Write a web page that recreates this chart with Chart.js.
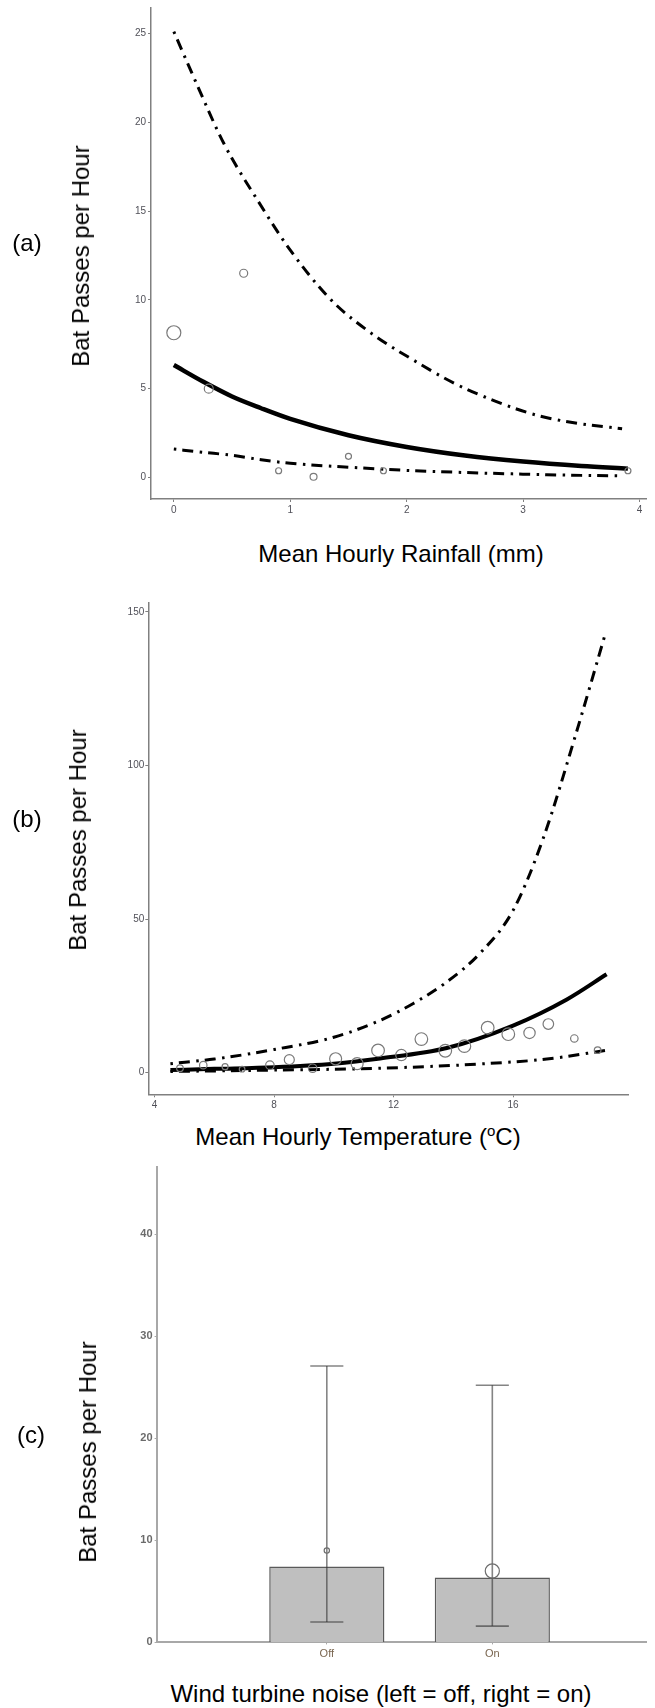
<!DOCTYPE html>
<html><head><meta charset="utf-8">
<script src="https://cdn.jsdelivr.net/npm/chart.js@4.4.1/dist/chart.umd.min.js"></script>
<style>
html,body{margin:0;padding:0;background:#fff;}
body{width:655px;height:1708px;position:relative;overflow:hidden;font-family:"Liberation Sans",Arial,sans-serif;}
canvas{position:absolute;left:0;}
.t{position:absolute;transform:translate(-50%,-50%);white-space:nowrap;color:#000;font-size:24px;line-height:1;}
.r{transform:translate(-50%,-50%) rotate(-90deg);}
sup{font-size:15px;vertical-align:9px;line-height:0;}
</style></head><body>
<canvas id="ca" width="655" height="530" style="top:0px"></canvas>
<canvas id="cb" width="655" height="540" style="top:580px"></canvas>
<canvas id="cc" width="655" height="520" style="top:1150px"></canvas>

<div class="t" style="left:27px;top:243px">(a)</div>
<div class="t r" style="left:81px;top:256px">Bat Passes per Hour</div>
<div class="t" style="left:401px;top:554px">Mean Hourly Rainfall (mm)</div>

<div class="t" style="left:27px;top:819px">(b)</div>
<div class="t r" style="left:78px;top:840px">Bat Passes per Hour</div>
<div class="t" style="left:358px;top:1137px">Mean Hourly Temperature (<sup>o</sup>C)</div>

<div class="t" style="left:31px;top:1435px">(c)</div>
<div class="t r" style="left:88px;top:1452px">Bat Passes per Hour</div>
<div class="t" style="left:381px;top:1694px">Wind turbine noise (left = off, right = on)</div>

<script>
// ---------- (a) Rainfall ----------
const rainX      = [0, 0.3, 0.6, 0.9, 1.2, 1.5, 1.8, 3.9];
const rainY      = [8.15, 5.0, 11.5, 0.38, 0.04, 1.19, 0.38, 0.38];
const rainWeight = [49, 20, 16, 9, 12, 9, 9, 9];
const rainFitX   = [0, 0.25, 0.5, 0.75, 1, 1.5, 2, 2.5, 3, 3.5, 3.9];
const rainFit    = [6.33, 5.4, 4.56, 3.9, 3.3, 2.38, 1.72, 1.24, 0.9, 0.65, 0.5];
const rainUpperX = [0, 0.19, 0.43, 0.72, 1.0, 1.35, 1.7, 2.06, 2.41, 2.76, 3.12, 3.47, 3.85];
const rainUpper  = [25.1, 22.25, 18.8, 15.6, 12.8, 10.0, 8.1, 6.6, 5.3, 4.3, 3.5, 3.05, 2.75];
const rainLowerX = [0, 0.25, 0.5, 0.75, 1, 1.5, 2, 2.5, 3, 3.5, 3.85];
const rainLower  = [1.6, 1.42, 1.25, 1.0, 0.8, 0.58, 0.4, 0.28, 0.19, 0.12, 0.09];
const rainXTicks = [0, 1, 2, 3, 4];
const rainYTicks = [0, 5, 10, 15, 20, 25];

// ---------- (b) Temperature ----------
const tempX      = [4.85, 5.63, 6.36, 6.93, 7.86, 8.51, 9.29, 10.06, 10.78, 11.48, 12.26, 12.93, 13.73, 14.37, 15.15, 15.84, 16.55, 17.18, 18.05, 18.83];
const tempY      = [1.4, 2.4, 1.9, 1.1, 2.4, 4.2, 1.4, 4.5, 2.9, 7.2, 5.7, 10.9, 7.1, 8.6, 14.6, 12.5, 12.9, 15.8, 11.1, 7.3];
const tempWeight = [11, 14, 9, 8, 18, 25, 18, 36, 36, 40, 32, 40, 40, 40, 40, 40, 32, 28, 14, 11];
const tempFitX   = [4.53, 6, 8, 10, 11.55, 13.78, 16.0, 17.8, 19.13];
const tempFit    = [0.8, 1.2, 1.75, 2.9, 4.6, 8.0, 15.3, 23.8, 32.0];
const tempUpperX = [4.53, 6, 8, 10, 11.55, 12.66, 13.78, 14.91, 16, 17, 18.12, 19.1];
const tempUpper  = [2.9, 4.4, 7.5, 11.5, 17.0, 22.5, 29.5, 39.0, 52.8, 76, 110.8, 143.3];
const tempLowerX = [4.53, 8, 11.55, 14.9, 17.13, 19.17];
const tempLower  = [0.35, 0.8, 1.4, 2.8, 4.4, 7.3];
const tempXTicks = [4, 8, 12, 16];
const tempYTicks = [0, 50, 100, 150];

// ---------- (c) Wind turbine noise ----------
const noiseCats   = ['Off', 'On'];
const noiseMean   = [7.45, 6.35];
const noiseLow    = [2.0, 1.6];
const noiseHigh   = [27.1, 25.2];
const noisePoint  = [9.0, 7.0];
const noiseWeight = [7, 50];
const noiseYTicks = [0, 10, 20, 30, 40];

const FONT = '"Liberation Sans", Arial, sans-serif';
Chart.defaults.font.family = FONT;
Chart.defaults.animation = false;

const xy = (xs, ys) => xs.map((x, i) => ({x, y: ys[i]}));
const dashDot = [2.5, 6, 11, 6.5];

function pointsDs(xs, ys, w, color) {
  return {type: 'scatter', data: xy(xs, ys), showLine: false,
    pointRadius: w.map(v => Math.sqrt(v)), pointHoverRadius: w.map(v => Math.sqrt(v)),
    pointBackgroundColor: 'rgba(0,0,0,0)', pointBorderColor: color || '#7a7a7a', pointBorderWidth: 1.2, order: 0};
}
function lineDs(xs, ys, width, dash) {
  return {type: 'scatter', data: xy(xs, ys), showLine: true, pointRadius: 0,
    borderColor: '#000', borderWidth: width, borderDash: dash || [], borderCapStyle: 'butt',
    cubicInterpolationMode: 'monotone', fill: false, order: 1};
}
function axes(o) {
  return {
    x: {type: 'linear', min: o.xmin, max: o.xmax, offset: false,
      afterBuildTicks: s => { s.ticks = o.xticks.map(v => ({value: v})); },
      afterFit: s => { s.height = o.xh; },
      grid: {display: true, offset: false, drawOnChartArea: false, drawTicks: true, tickLength: o.tl, color: o.axc, lineWidth: 1},
      border: {display: true, color: o.axc, width: o.aw},
      ticks: Object.assign({autoSkip: false, maxRotation: 0, padding: 2, color: '#505058', font: {size: 10}}, o.xtick || {})},
    y: {type: 'linear', min: o.ymin, max: o.ymax, offset: false,
      afterBuildTicks: s => { s.ticks = o.yticks.map(v => ({value: v})); },
      afterFit: s => { s.width = o.yw; },
      grid: {display: true, offset: false, drawOnChartArea: false, drawTicks: true, tickLength: o.tl, color: o.axc, lineWidth: 1},
      border: {display: true, color: o.axc, width: o.aw},
      ticks: Object.assign({padding: 2, color: '#505058', font: {size: 10}}, o.ytick || {})}
  };
}
const common = {responsive: false, animation: false, events: [],
  plugins: {legend: {display: false}, tooltip: {enabled: false}}};

// (a)
new Chart(document.getElementById('ca'), {
  type: 'scatter',
  data: {datasets: [
    lineDs(rainUpperX, rainUpper, 3, dashDot),
    lineDs(rainLowerX, rainLower, 3, dashDot),
    lineDs(rainFitX, rainFit, 4.5),
    pointsDs(rainX, rainY, rainWeight)
  ]},
  options: Object.assign({}, common, {
    layout: {padding: {top: 8, right: 0, bottom: 0, left: 0}},
    scales: axes({xmin: -0.196, xmax: 4.062, ymin: -1.21, ymax: 26.42, xticks: rainXTicks, yticks: rainYTicks,
      xh: 31, yw: 151, tl: 3, axc: '#808080', aw: 1.5})
  })
});

// (b)
new Chart(document.getElementById('cb'), {
  type: 'scatter',
  data: {datasets: [
    lineDs(tempUpperX, tempUpper, 3, dashDot),
    lineDs(tempLowerX, tempLower, 3, dashDot),
    lineDs(tempFitX, tempFit, 4),
    pointsDs(tempX, tempY, tempWeight)
  ]},
  options: Object.assign({}, common, {
    layout: {padding: {top: 23, right: 26.3, bottom: 0, left: 0}},
    scales: axes({xmin: 3.79, xmax: 19.87, ymin: -7.08, ymax: 152.9, xticks: tempXTicks, yticks: tempYTicks,
      xh: 25.7, yw: 148.3, tl: 3, axc: '#808080', aw: 1.5, ytick: {padding: 1}})
  })
});

// (c)
const catX = noiseCats.map((c, i) => i + 1);
const whiskerColor = 'rgba(50,50,50,0.6)';
const whiskers = [];
catX.forEach((x, i) => {
  const seg = (pts) => ({type: 'scatter', data: pts, showLine: true, pointRadius: 0,
    borderColor: whiskerColor, borderWidth: 1.6, fill: false, order: 1});
  whiskers.push(seg([{x, y: noiseLow[i]}, {x, y: noiseHigh[i]}]));
  whiskers.push(seg([{x: x - 0.1, y: noiseLow[i]}, {x: x + 0.1, y: noiseLow[i]}]));
  whiskers.push(seg([{x: x - 0.1, y: noiseHigh[i]}, {x: x + 0.1, y: noiseHigh[i]}]));
});
const scC = axes({xmin: -0.0285, xmax: 2.933, ymin: 0, ymax: 46.6, xticks: catX, yticks: noiseYTicks,
  xh: 27.6, yw: 156.6, tl: 2, axc: '#a8a8a8', aw: 2,
  xtick: {color: '#7a6650', font: {size: 11}, padding: 3, callback: v => noiseCats[v - 1] || ''},
  ytick: {color: '#6b6b6b', font: {size: 11, weight: 'bold'}, padding: 2}});
new Chart(document.getElementById('cc'), {
  type: 'bar',
  data: {datasets: [
    {type: 'bar', data: xy(catX, noiseMean), backgroundColor: '#bfbfbf', borderColor: '#5a5a5a',
      borderWidth: 1.5, barPercentage: 0.696, categoryPercentage: 1, order: 2},
    ...whiskers,
    pointsDs(catX, noisePoint, noiseWeight, '#6e6e6e')
  ]},
  options: Object.assign({}, common, {
    layout: {padding: {top: 17, right: 0, bottom: 0, left: 0}},
    scales: scC
  })
});
</script>
</body></html>
